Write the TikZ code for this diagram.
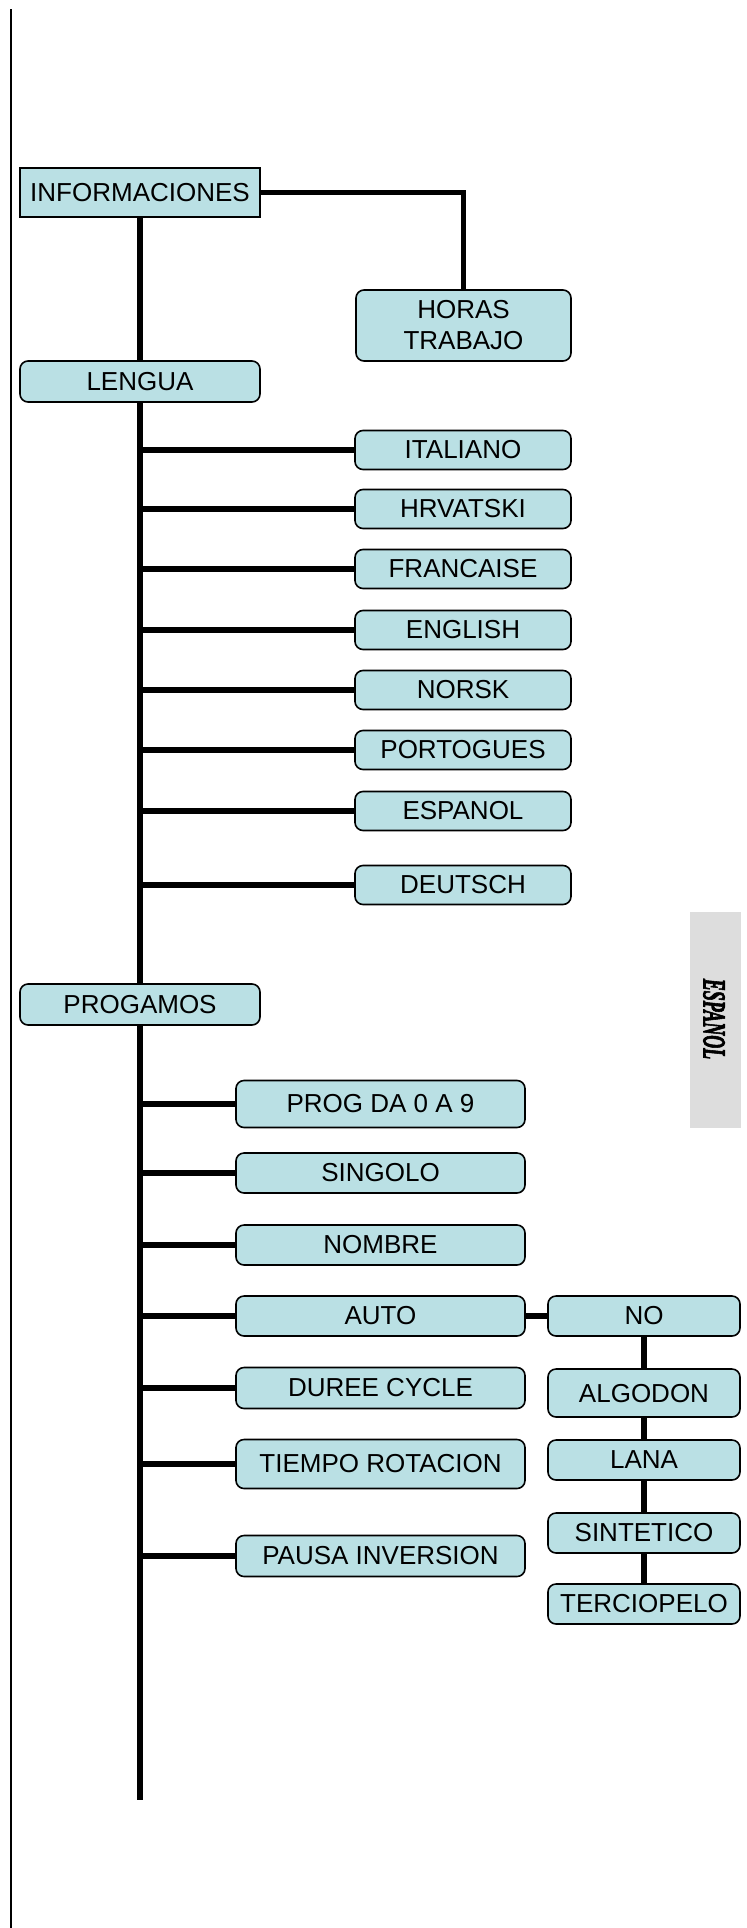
\documentclass[tikz,border=0pt]{standalone}
\usepackage{fontspec}
\setmainfont{Liberation Sans}
\newfontfamily\tabfont{Liberation Serif}[BoldItalicFeatures={FakeBold=3}]
\definecolor{boxfill}{RGB}{186,224,228}
\definecolor{tabgray}{RGB}{221,221,221}
\begin{document}
\begin{tikzpicture}[x=0.5pt,y=-0.5pt,
  base/.style={draw=black,line width=0.8pt,fill=boxfill,inner sep=0pt,
    font=\fontsize{13}{15.5}\selectfont,align=center},
  sqbox/.style={base},
  rbox/.style={base,rounded corners=4pt},
  conn/.style={line width=2.6pt,line cap=butt},
]
\useasboundingbox (0,0) rectangle (747,1928);
% left border line
\draw[line width=1.3pt] (11,9) -- (11,1928);
% grey tab
\node[fill=tabgray,minimum width=25.5pt,minimum height=108pt,inner sep=0pt] (tab) at (715.5,1020) {};
\node[rotate=-90,inner sep=0pt,font=\fontsize{16}{18}\selectfont] (tabtxt) at (714,1019) {\scalebox{0.56}[1]{\tabfont\bfseries\itshape ESPANOL}};

% main nodes
\node[sqbox,minimum width=120pt,minimum height=24.5pt] (info) at (140,192.5) {INFORMACIONES};
\node[rbox,minimum width=107.5pt,minimum height=35.5pt] (horas) at (463.5,325.5) {HORAS\\TRABAJO};
\node[rbox,minimum width=120pt,minimum height=20.5pt] (lengua) at (140,381.5) {LENGUA};

\foreach \n/\t/\yy in {it/ITALIANO/450,hr/HRVATSKI/509,fr/FRANCAISE/569,en/ENGLISH/630,no/NORSK/690,pt/PORTOGUES/750,es/ESPANOL/811,de/DEUTSCH/885}{
  \node[rbox,minimum width=108pt,minimum height=19.5pt] (\n) at (463,\yy) {\t};
}

\node[rbox,minimum width=120pt,minimum height=20.5pt] (prog) at (140,1004.5) {PROGAMOS};

\node[rbox,minimum width=144.5pt,minimum height=23.5pt] (p0) at (380.5,1104) {PROG DA 0 A 9};
\node[rbox,minimum width=144.5pt,minimum height=20pt] (p1) at (380.5,1173) {SINGOLO};
\node[rbox,minimum width=144.5pt,minimum height=20pt] (p2) at (380.5,1245) {NOMBRE};
\node[rbox,minimum width=144.5pt,minimum height=20pt] (p3) at (380.5,1316) {AUTO};
\node[rbox,minimum width=144.5pt,minimum height=20.5pt] (p4) at (380.5,1388) {DUREE CYCLE};
\node[rbox,minimum width=144.5pt,minimum height=24.5pt] (p5) at (380.5,1464) {TIEMPO ROTACION};
\node[rbox,minimum width=144.5pt,minimum height=20.5pt] (p6) at (380.5,1556) {PAUSA INVERSION};

\node[rbox,minimum width=96pt,minimum height=20pt] (r0) at (644,1316) {NO};
\node[rbox,minimum width=96pt,minimum height=24pt,text depth=-2pt] (r1) at (644,1393) {ALGODON};
\node[rbox,minimum width=96pt,minimum height=20pt] (r2) at (644,1460) {LANA};
\node[rbox,minimum width=96pt,minimum height=20pt] (r3) at (644,1533) {SINTETICO};
\node[rbox,minimum width=96pt,minimum height=20pt] (r4) at (644,1604) {TERCIOPELO};

\coordinate (spineend) at (140,1800);

% connectors
\draw[conn] (info.east) -| (horas.north);
\draw[conn] (info.south) -- (lengua.north);
\draw[conn] (lengua.south) -- (prog.north);
\draw[conn] (prog.south) -- (spineend);
\foreach \n in {it,hr,fr,en,no,pt,es,de,p0,p1,p2,p3,p4,p5,p6}{
  \draw[conn] (\n.west) -- (\n.west -| info.south);
}
\draw[conn] (p3.east) -- (r0.west);
\draw[conn] (r0.south) -- (r1.north);
\draw[conn] (r1.south) -- (r2.north);
\draw[conn] (r2.south) -- (r3.north);
\draw[conn] (r3.south) -- (r4.north);
\end{tikzpicture}
\end{document}
